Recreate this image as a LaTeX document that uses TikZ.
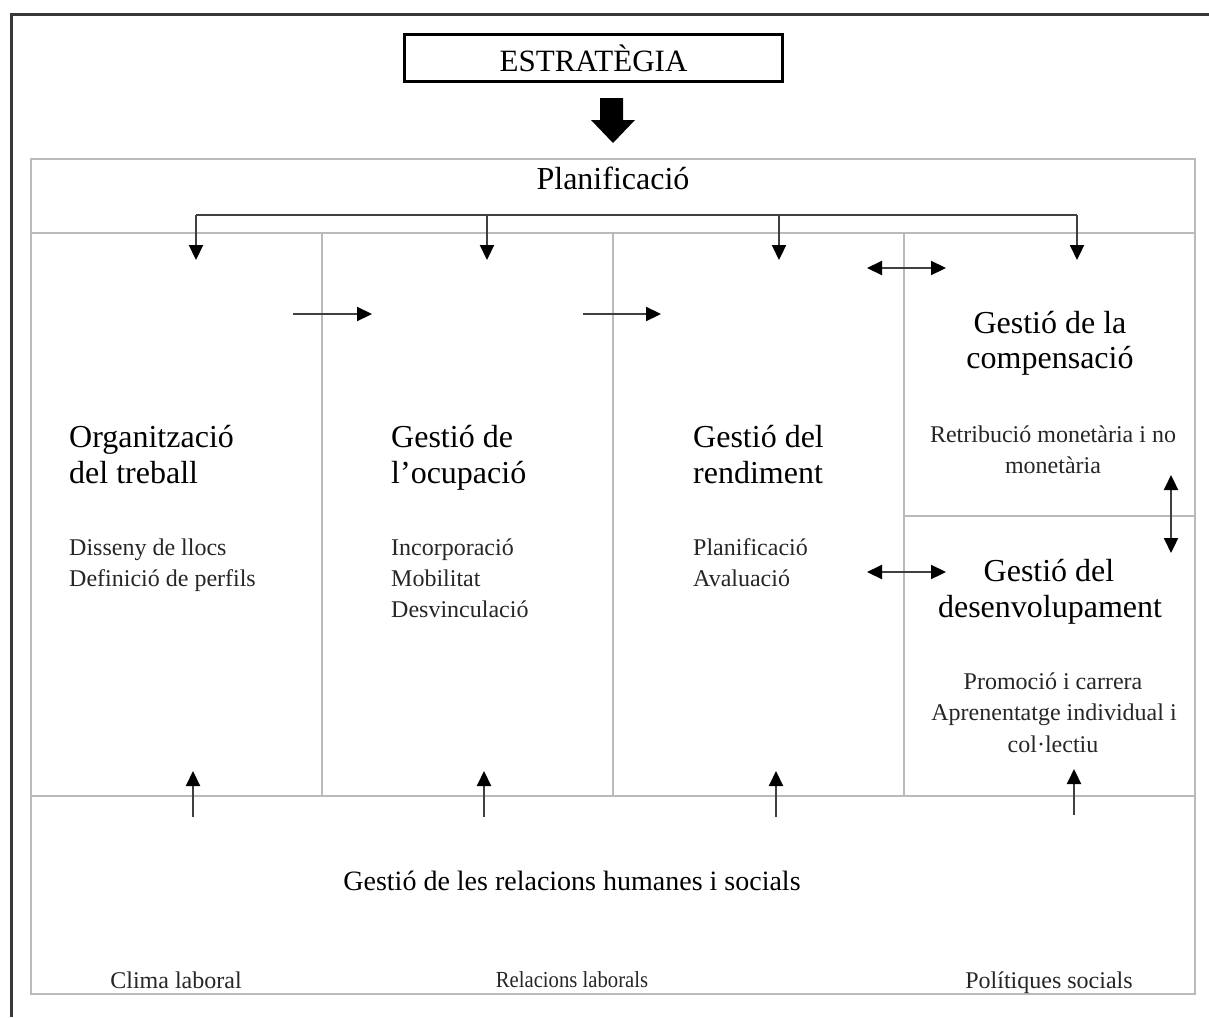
\documentclass[tikz,border=0pt]{standalone}
\usepackage{fontspec}
\setmainfont{Liberation Serif}
\usetikzlibrary{arrows.meta}
\begin{document}
\begin{tikzpicture}[x=1pt,y=-1pt,
  grid/.style={draw=black!27, line width=1.8pt},
  frame/.style={draw=black!78, line width=3pt},
  wire/.style={draw=black!75, line width=2.2pt},
  tip/.style={-{Triangle[length=15pt,width=14pt,color=black,fill=black]}},
  twotip/.style={{Triangle[length=15pt,width=14pt,color=black,fill=black]}-{Triangle[length=15pt,width=14pt,color=black,fill=black]}},
  bigtxt/.style={inner sep=0pt, font=\fontsize{32}{36}\selectfont},
  midtxt/.style={inner sep=0pt, font=\fontsize{28}{32}\selectfont},
  smalltxt/.style={inner sep=0pt, font=\fontsize{24}{30}\selectfont, text=black!85},
]
\useasboundingbox (0,0) rectangle (1209,1017);
\fill[white] (0,0) rectangle (1209,1017);

% outer frame (open to the right and bottom)
\draw[frame] (11,1017) -- (11,14) -- (1209,14);

% strategy box and heavy arrow
\node[draw=black, line width=3pt, minimum width=378pt, minimum height=47pt, inner sep=0pt,
      font=\fontsize{31}{36}\selectfont] (estr) at (593.5,58) {ESTRATÈGIA};
\fill[black] (600,98) -- (623,98) -- (623,120) -- (635,120) -- (613,143) -- (591,120) -- (600,120) -- cycle;

% main grid
\draw[grid] (31,159) rectangle (1195,994);
\draw[grid] (31,233) -- (1195,233);
\draw[grid] (31,796) -- (1195,796);
\draw[grid] (322,233) -- (322,796);
\draw[grid] (613,233) -- (613,796);
\draw[grid] (904,233) -- (904,796);
\draw[grid] (904,516) -- (1195,516);

% planning row
\node[bigtxt, anchor=base] (plan) at (613,189) {Planificació};

% distribution bracket from planning
\coordinate (p1) at (196,215);
\coordinate (p2) at (487,215);
\coordinate (p3) at (779,215);
\coordinate (p4) at (1077,215);
\coordinate (q1) at (196,260);
\coordinate (q2) at (487,260);
\coordinate (q3) at (779,260);
\coordinate (q4) at (1077,260);
\draw[wire] (p1) -- (p4);
\draw[wire, tip] (p1) -- (q1);
\draw[wire, tip] (p2) -- (q2);
\draw[wire, tip] (p3) -- (q3);
\draw[wire, tip] (p4) -- (q4);

% flow arrows between columns
\coordinate (h1a) at (293,314);
\coordinate (h1b) at (372,314);
\coordinate (h2a) at (583,314);
\coordinate (h2b) at (661,314);
\draw[wire, tip] (h1a) -- (h1b);
\draw[wire, tip] (h2a) -- (h2b);

% two-way arrows
\coordinate (d1a) at (867,268);
\coordinate (d1b) at (946,268);
\coordinate (d2a) at (867,572);
\coordinate (d2b) at (946,572);
\coordinate (d3a) at (1171,475);
\coordinate (d3b) at (1171,553);
\draw[wire, twotip] (d1a) -- (d1b);
\draw[wire, twotip] (d2a) -- (d2b);
\draw[wire, twotip] (d3a) -- (d3b);

% arrows up from the bottom band
\coordinate (u1a) at (193,817);
\coordinate (u1b) at (193,771);
\coordinate (u2a) at (484,817);
\coordinate (u2b) at (484,771);
\coordinate (u3a) at (776,817);
\coordinate (u3b) at (776,771);
\coordinate (u4a) at (1074,815);
\coordinate (u4b) at (1074,769);
\draw[wire, tip] (u1a) -- (u1b);
\draw[wire, tip] (u2a) -- (u2b);
\draw[wire, tip] (u3a) -- (u3b);
\draw[wire, tip] (u4a) -- (u4b);

% column 1
\node[bigtxt, anchor=base west] (orgA) at (69,447) {Organització};
\node[bigtxt, anchor=base west] (orgB) at (69,483) {del treball};
\node[smalltxt, anchor=base west] (orgC) at (69,555) {Disseny de llocs};
\node[smalltxt, anchor=base west] (orgD) at (69,586) {Definició de perfils};

% column 2
\node[bigtxt, anchor=base west] (ocuA) at (391,447) {Gestió de};
\node[bigtxt, anchor=base west] (ocuB) at (391,483) {l’ocupació};
\node[smalltxt, anchor=base west] (ocuC) at (391,555) {Incorporació};
\node[smalltxt, anchor=base west] (ocuD) at (391,586) {Mobilitat};
\node[smalltxt, anchor=base west] (ocuE) at (391,617) {Desvinculació};

% column 3
\node[bigtxt, anchor=base west] (renA) at (693,447) {Gestió del};
\node[bigtxt, anchor=base west] (renB) at (693,483) {rendiment};
\node[smalltxt, anchor=base west] (renC) at (693,555) {Planificació};
\node[smalltxt, anchor=base west] (renD) at (693,586) {Avaluació};

% column 4, upper cell
\node[bigtxt, anchor=base] (comA) at (1050,333) {Gestió de la};
\node[bigtxt, anchor=base] (comB) at (1050,368) {compensació};
\node[smalltxt, anchor=base] (comC) at (1053,442) {Retribució monetària i no};
\node[smalltxt, anchor=base] (comD) at (1053,473) {monetària};

% column 4, lower cell
\node[bigtxt, anchor=base] (desA) at (1049,581) {Gestió del};
\node[bigtxt, anchor=base] (desB) at (1050,617) {desenvolupament};
\node[smalltxt, anchor=base] (desC) at (1053,689) {Promoció i carrera};
\node[smalltxt, anchor=base] (desD) at (1054,720) {Aprenentatge individual i};
\node[smalltxt, anchor=base] (desE) at (1053,752) {col·lectiu};

% bottom band
\node[midtxt, anchor=base] (rel) at (572,890) {Gestió de les relacions humanes i socials};
\node[smalltxt, anchor=base] (clima) at (176,988) {Clima laboral};
\node[smalltxt, anchor=base, font=\fontsize{23}{28}\selectfont] (lab) at (572,987) {\scalebox{0.9}[1]{Relacions laborals}};
\node[smalltxt, anchor=base] (pol) at (1049,988) {Polítiques socials};
\end{tikzpicture}
\end{document}
